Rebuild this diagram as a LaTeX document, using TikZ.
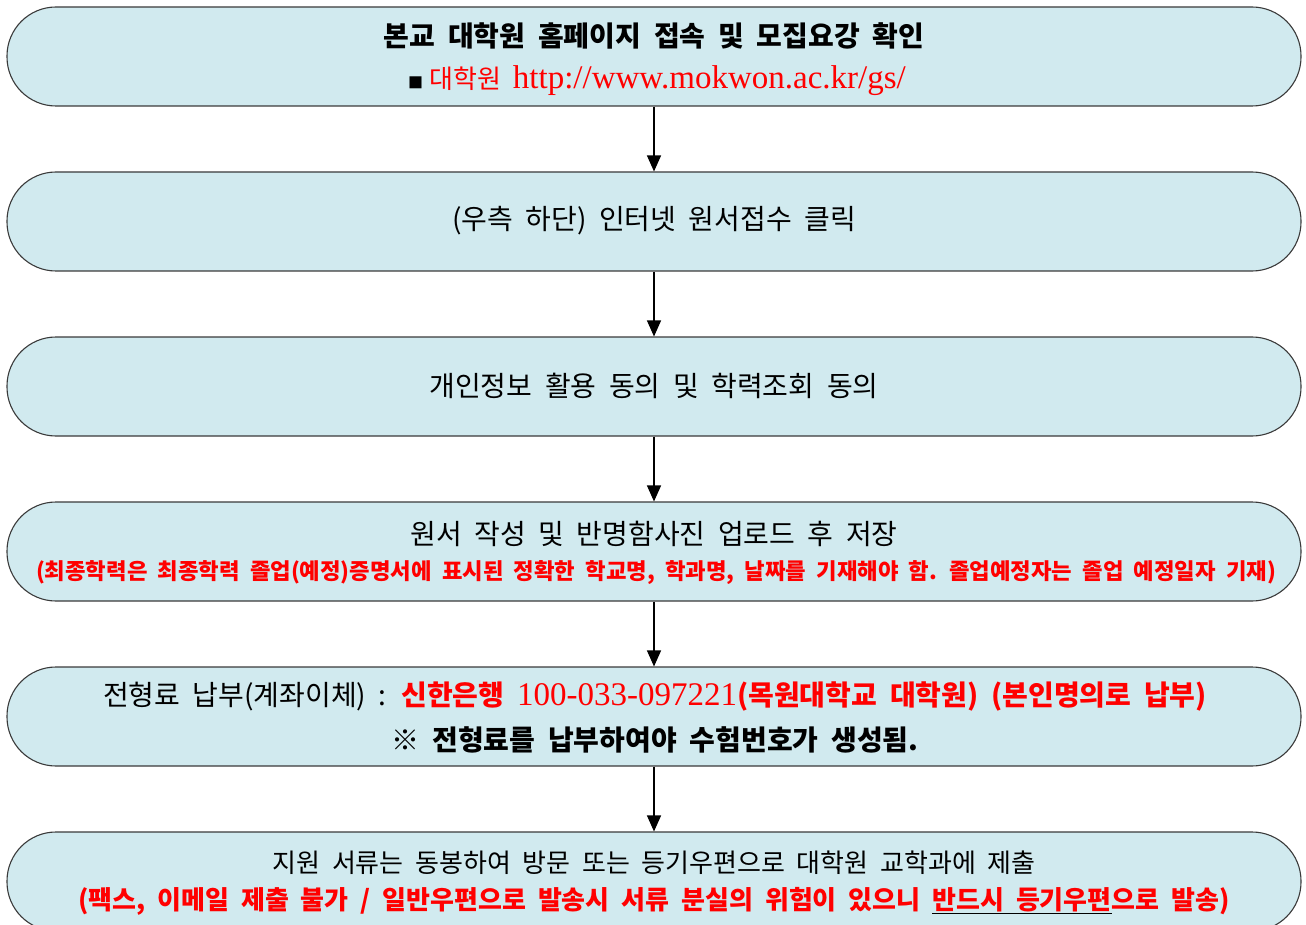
\documentclass[tikz,border=0pt]{standalone}
\usepackage{fontspec}
\setmainfont{Noto Sans CJK KR}[WordSpace=2]
\newfontfamily\lat{Liberation Serif}[WordSpace=1.5]
\usetikzlibrary{arrows.meta}
\definecolor{boxfill}{HTML}{D1EAEF}
\definecolor{boxline}{HTML}{3A3A3A}
\definecolor{red1}{HTML}{FF0000}
\begin{document}
\begin{tikzpicture}[x=1pt,y=-1pt,
  box/.style={draw=boxline,fill=boxfill,line width=1.1pt,rounded corners=49pt,minimum width=1294pt,minimum height=99pt,inner sep=0pt},
  txt/.style={inner sep=0pt,anchor=center},
  big/.style={font=\fontsize{28}{32}\selectfont},
  small/.style={font=\fontsize{22.3}{26}\selectfont\bfseries},
  conn/.style={line width=1.3pt,-{Triangle[width=14pt,length=16pt]}}]
\useasboundingbox (0,0) rectangle (1306,925);
\node[box] (b1) at (654,56.5) {};
\node[box] (b2) at (654,221.5) {};
\node[box] (b3) at (654,386.5) {};
\node[box] (b4) at (654,551.5) {};
\node[box] (b5) at (654,716.5) {};
\node[box] (b6) at (654,881.5) {};
\draw[conn] (b1.south) -- (b2.north);
\draw[conn] (b2.south) -- (b3.north);
\draw[conn] (b3.south) -- (b4.north);
\draw[conn] (b4.south) -- (b5.north);
\draw[conn] (b5.south) -- (b6.north);
% box 1
\node[txt,big] (t1a) at (654,36) {\bfseries 본교 대학원 홈페이지 접속 및 모집요강 확인};
\node[txt,font=\fontsize{26}{30}\selectfont] (t1b) at (657,81) {{\fontsize{15}{15}\selectfont ■}\hspace{6pt}\textcolor{red1}{대학원\hspace{12pt}{\lat\fontsize{33}{34}\selectfont http://www.mokwon.ac.kr/gs/}}};
% box 2
\node[txt,big] (t2) at (654,221) {(우측 하단) 인터넷 원서접수 클릭};
% box 3
\node[txt,big] (t3) at (654,386) {개인정보 활용 동의 및 학력조회 동의};
% box 4
\node[txt,big] (t4a) at (654,534) {원서 작성 및 반명함사진 업로드 후 저장};
\node[txt,small,text=red1] (t4b) at (656,573) {(최종학력은 최종학력 졸업(예정)증명서에 표시된 정확한 학교명, 학과명, 날짜를 기재해야 함. 졸업예정자는 졸업 예정일자 기재)};
% box 5
\node[txt,big] (t5a) at (655,696) {전형료 납부(계좌이체) : \textcolor{red1}{\bfseries 신한은행 {\lat\mdseries\fontsize{33}{34}\selectfont 100-033-097221}(목원대학교 대학원) (본인명의로 납부)}};
\node[txt,big] (t5b) at (655,740) {\bfseries ※ 전형료를 납부하여야 수험번호가 생성됨.};
% box 6
\node[txt,font=\fontsize{26}{30}\selectfont] (t6a) at (654,863) {지원 서류는 동봉하여 방문 또는 등기우편으로 대학원 교학과에 제출};
\node[txt,font=\fontsize{26}{30}\selectfont\bfseries,text=red1] (t6b) at (654,901) {(팩스, 이메일 제출 불가 / 일반우편으로 발송시 서류 분실의 위험이 있으니 \textcolor{black}{\underline{\textcolor{red1}{반드시 등기우편}}}으로 발송)};
\end{tikzpicture}
\end{document}
